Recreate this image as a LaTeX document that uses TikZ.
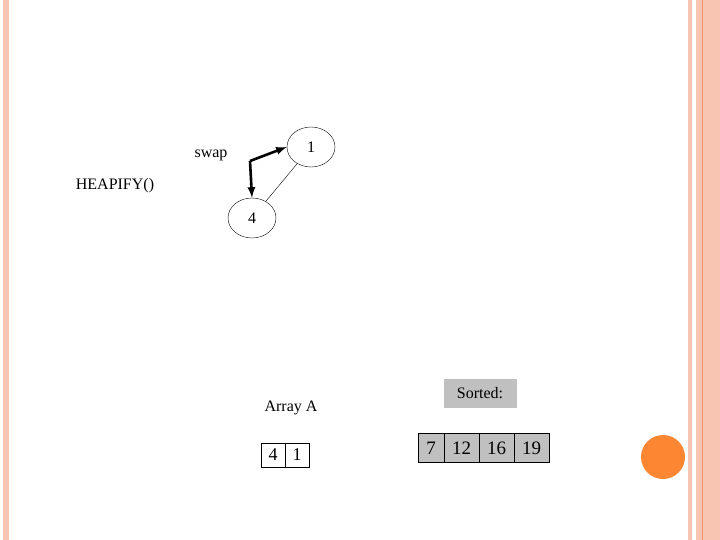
\documentclass[tikz,border=0pt]{standalone}
\usepackage{fontspec}
\setmainfont{Liberation Serif}
\usepackage{tikz}
\usetikzlibrary{shapes.geometric}
\usetikzlibrary{arrows}
\definecolor{salmon}{RGB}{248,197,178}
\definecolor{deeporange}{RGB}{252,134,50}
\definecolor{lineorange}{RGB}{233,150,110}
\definecolor{cellgray}{RGB}{192,192,192}

\tikzset{
  heapnode/.style={draw,ellipse,minimum width=48pt,minimum height=40pt,inner sep=0pt},
  cell/.style={draw,minimum width=24pt,minimum height=24pt,inner sep=0pt,font=\fontsize{18}{21}\selectfont},
  sortcell/.style={draw,fill=cellgray,minimum height=29pt,inner sep=0pt,font=\fontsize{19}{22}\selectfont},
}

\begin{document}
\begin{tikzpicture}[x=1pt,y=-1pt,font=\fontsize{16}{19}\selectfont]
    \useasboundingbox (0,0) rectangle (720,540);
    % slide decoration
    \fill[salmon] (3,0) rectangle (9,540);
    \fill[salmon] (688,0) rectangle (692,540);
    \fill[salmon] (696,0) rectangle (720,540);
    \draw[lineorange,line width=1pt] (702,0) -- (702,540);
    \fill[deeporange] (663,457) circle (22);
    % heap
    \node[heapnode] (one) at (311,147) {1};
    \node[heapnode] (four) at (252,218) {4};
    \coordinate (corner) at (250,161);
    \draw[thin] (one) -- (four);
    \draw[line width=2.6pt,-latex] (corner) -- (one.west);
    \draw[line width=2.6pt,-latex] (corner) -- (four.north);
    \node (swaplabel) at (211,155) {swap};
    \node (heapify) at (115,186) {HEAPIFY()};
    % array A
    \node (arraylabel) at (291,408) {Array A};
    \node[cell] (a1) at (273,455) {4};
    \node[cell] (a2) at (297,455) {1};
    % sorted
    \node[fill=cellgray,minimum width=73pt,minimum height=29pt] (sortlabel) at (480,393) {Sorted:};
    \node[sortcell,minimum width=26pt] (s1) at (431,448) {7};
    \node[sortcell,minimum width=35pt] (s2) at (461.5,448) {12};
    \node[sortcell,minimum width=35pt] (s3) at (496.5,448) {16};
    \node[sortcell,minimum width=35pt] (s4) at (531.5,448) {19};
\end{tikzpicture}
\end{document}
